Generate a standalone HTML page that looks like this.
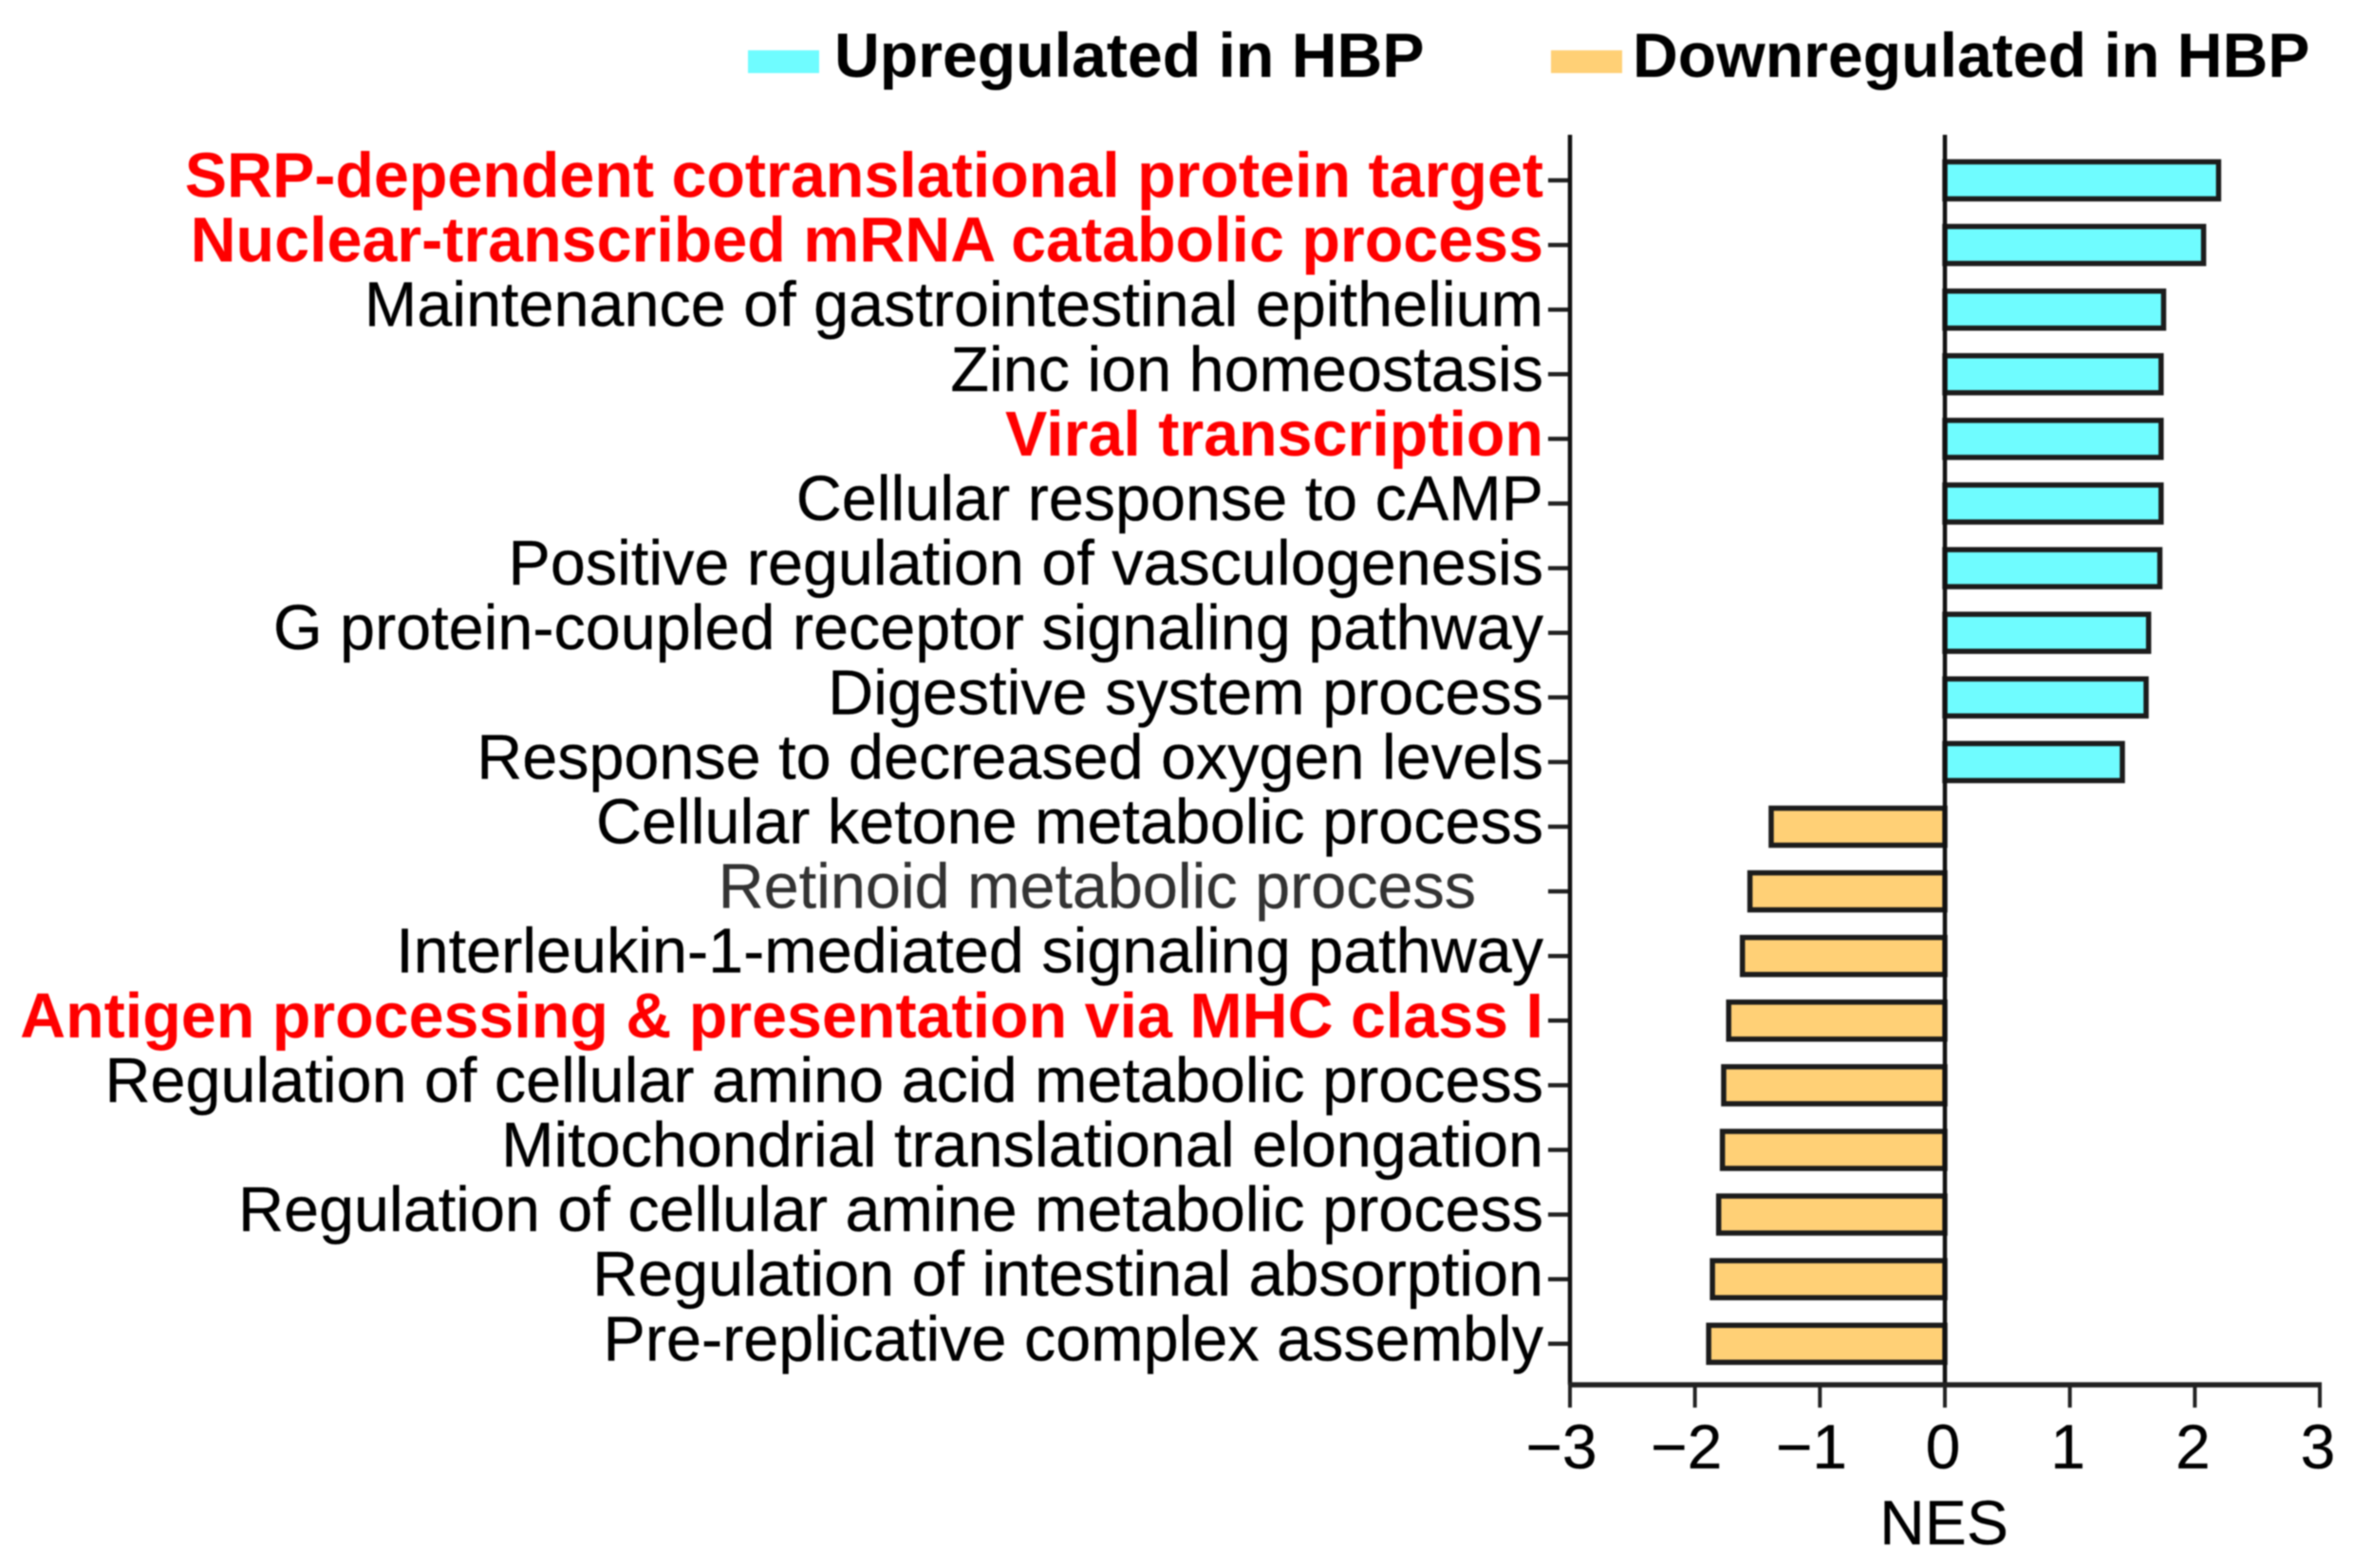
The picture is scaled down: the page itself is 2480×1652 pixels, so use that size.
<!DOCTYPE html>
<html lang="en">
<head>
<meta charset="utf-8">
<title>NES bar chart</title>
<style>
html,body{margin:0;padding:0;background:#fff;}
body{width:2480px;height:1652px;overflow:hidden;}
svg{display:block;filter:blur(0.8px);}
text{font-family:"Liberation Sans",Arial,sans-serif;}
</style>
</head>
<body>
<svg id="chart" width="2480" height="1652" viewBox="0 0 2480 1652" xmlns="http://www.w3.org/2000/svg">
  <rect x="0" y="0" width="2480" height="1652" fill="#fff"/>
  <g>
    <rect x="788" y="53" width="75" height="24" fill="#6ffcff"/>
    <text x="879" y="81" font-size="66.2" font-weight="700" fill="#000">Upregulated in HBP</text>
    <rect x="1634" y="53" width="75" height="24" fill="#ffd076"/>
    <text x="1720" y="81" font-size="66.2" font-weight="700" fill="#000">Downregulated in HBP</text>
  </g>
  <g id="bars"></g>
  <g id="yaxis"></g>
  <g id="xaxis"></g>
  <text x="2048" y="1627" font-size="66" text-anchor="middle" fill="#000" stroke="#000" stroke-width="0.3">NES</text>
</svg>
<script>
const categories = [
  "SRP-dependent cotranslational protein target",
  "Nuclear-transcribed mRNA catabolic process",
  "Maintenance of gastrointestinal epithelium",
  "Zinc ion homeostasis",
  "Viral transcription",
  "Cellular response to cAMP",
  "Positive regulation of vasculogenesis",
  "G protein-coupled receptor signaling pathway",
  "Digestive system process",
  "Response to decreased oxygen levels",
  "Cellular ketone metabolic process",
  "Retinoid metabolic process",
  "Interleukin-1-mediated signaling pathway",
  "Antigen processing & presentation via MHC class I",
  "Regulation of cellular amino acid metabolic process",
  "Mitochondrial translational elongation",
  "Regulation of cellular amine metabolic process",
  "Regulation of intestinal absorption",
  "Pre-replicative complex assembly"
];
const nesValues = [2.19, 2.07, 1.75, 1.73, 1.73, 1.73, 1.72, 1.63, 1.61, 1.42, -1.39, -1.56, -1.62, -1.73, -1.77, -1.78, -1.81, -1.86, -1.89];
const highlighted = ["SRP-dependent cotranslational protein target", "Nuclear-transcribed mRNA catabolic process", "Viral transcription", "Antigen processing & presentation via MHC class I"];
const xTickValues = [-3, -2, -1, 0, 1, 2, 3];
const xTickLabels = ["\u22123", "\u22122", "\u22121", "0", "1", "2", "3"];

const NS = "http://www.w3.org/2000/svg";
const plotLeft = 1654, plotRight = 2444, plotTop = 142, plotBottom = 1459;
const firstRowY = 190, rowStep = 68.1, barHeight = 39;
function xScale(v) { return plotLeft + (v - xTickValues[0]) / (xTickValues[xTickValues.length - 1] - xTickValues[0]) * (plotRight - plotLeft); }
function yScale(i) { return firstRowY + i * rowStep; }
function make(tag, parent, attrs) {
  const el = document.createElementNS(NS, tag);
  for (const k in attrs) el.setAttribute(k, attrs[k]);
  parent.appendChild(el);
  return el;
}
const barsG = document.getElementById("bars");
const yG = document.getElementById("yaxis");
const xG = document.getElementById("xaxis");

categories.forEach(function (name, i) {
  const v = nesValues[i];
  const x0 = xScale(0), x1 = xScale(v), y = yScale(i);
  const bar = make("rect", barsG, {
    x: Math.min(x0, x1), y: y - barHeight / 2,
    width: Math.abs(x1 - x0), height: barHeight,
    fill: v >= 0 ? "#6ffcff" : "#ffd076",
    stroke: "#1c1c1c", "stroke-width": 5.5
  });
  
  

  const tick = make("line", yG, { x1: plotLeft - 23, x2: plotLeft, y1: y, y2: y, stroke: "#222", "stroke-width": 4.5 });
  
  

  const isHi = highlighted.indexOf(name) >= 0;
  const isRetinoid = name === "Retinoid metabolic process";
  const label = make("text", yG, {
    x: isRetinoid ? 1555 : 1626, y: y + 17.5,
    "text-anchor": "end", "font-size": isHi ? 66.4 : 66.5,
    "font-weight": isHi ? 700 : 400,
    fill: isHi ? "#ff0000" : (isRetinoid ? "#333" : "#000"),
    stroke: isHi ? "none" : (isRetinoid ? "#333" : "#000"),
    "stroke-width": isHi ? 0 : 0.3
  });
  label.textContent = name;
  
  
});

const yLine = make("line", yG, { x1: plotLeft, x2: plotLeft, y1: plotTop, y2: plotBottom, stroke: "#111", "stroke-width": 4.5 });



const zeroLine = make("line", yG, { x1: xScale(0), x2: xScale(0), y1: plotTop, y2: plotBottom, stroke: "#111", "stroke-width": 4.5 });



const xLine = make("line", xG, { x1: plotLeft - 2, x2: plotRight + 2, y1: plotBottom, y2: plotBottom, stroke: "#222", "stroke-width": 5.5 });



xTickValues.forEach(function (v, i) {
  const x = xScale(v);
  const tick = make("line", xG, { x1: x, x2: x, y1: plotBottom, y2: plotBottom + 24, stroke: "#222", "stroke-width": 4 });
  
  
  const label = make("text", xG, { x: x + (v < 0 ? -9 : -2), y: 1547, "text-anchor": "middle", "font-size": 66, fill: "#000", stroke: "#000", "stroke-width": 0.3 });
  label.textContent = xTickLabels[i];
  
  
});
</script>
</body>
</html>
